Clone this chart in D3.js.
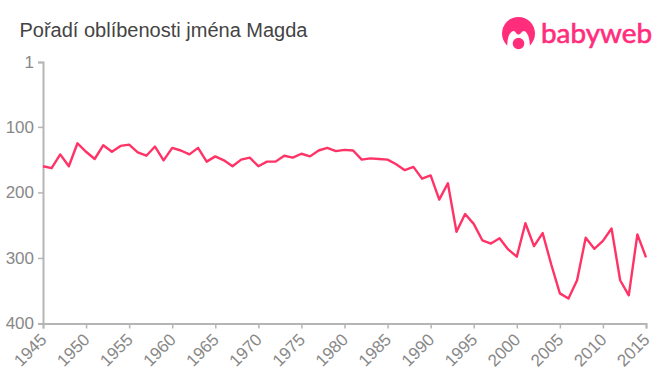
<!DOCTYPE html>
<html>
<head>
<meta charset="utf-8">
<script src="https://cdn.jsdelivr.net/npm/d3@7"></script>
<style>
html, body { margin: 0; padding: 0; background: #fff; }
svg { display: block; }
</style>
</head>
<body>
<div id="chart"></div>
<script>
const years = d3.range(1945, 2016);
const ranks = [160, 163, 142, 160, 125, 138, 149, 128, 138, 129, 127, 139, 144, 130, 151, 132,
    136, 142, 132, 153, 145, 151, 160, 150, 147, 160, 153, 153, 144, 147, 141, 145, 136, 132,
    137, 135, 136, 150, 148, 149, 150, 157, 166, 161, 179, 174, 211, 186, 260, 233, 248, 273,
    278, 270, 287, 298, 247, 282, 262, 310, 354, 362, 334, 269, 286, 274, 255, 334, 357, 264, 299];
const yTicks = [1, 100, 200, 300, 400];
const xTicks = d3.range(1945, 2016, 5);

const svg = d3.select("#chart")
    .append("svg")
    .attr("width", 660)
    .attr("height", 375)
    .attr("font-family", "'Liberation Sans', Arial, sans-serif");

const x = d3.scaleLinear().domain([1945, 2015]).range([43, 646]);
const y = d3.scaleLinear().domain([1, 400]).range([62, 323.5]);

// Title
svg.append("text")
    .attr("x", 19.5)
    .attr("y", 37)
    .attr("font-size", 20)
    .attr("fill", "#444")
    .text("Pořadí oblíbenosti jména Magda");

// Axes
const yAxis = svg.append("g")
    .attr("transform", "translate(43,0)")
    .call(d3.axisLeft(y).tickValues(yTicks).tickSize(5).tickPadding(4).tickFormat(d => d));

const xAxis = svg.append("g")
    .attr("transform", "translate(0,323.5)")
    .call(d3.axisBottom(x).tickValues(xTicks).tickSize(5).tickFormat(d3.format("d")));

[yAxis, xAxis].forEach(a => {
    a.select(".domain").attr("stroke", "#b5b5b5").attr("stroke-width", 2);
    a.selectAll(".tick line").attr("stroke", "#b5b5b5").attr("stroke-width", 1.5);
    a.selectAll(".tick text").attr("fill", "#888").attr("font-family", "'Liberation Sans', Arial, sans-serif");
});

yAxis.selectAll(".tick text").attr("font-size", 17);

xAxis.selectAll(".tick text")
    .attr("font-size", 17)
    .attr("text-anchor", "end")
    .attr("x", 0)
    .attr("y", 0)
    .attr("dy", "0.35em")
    .attr("transform", "translate(0,13) rotate(-45)");

// Line
const line = d3.line()
    .x((d, i) => x(years[i]))
    .y(d => y(d));

svg.append("path")
    .datum(ranks)
    .attr("fill", "none")
    .attr("stroke", "#ff3366")
    .attr("stroke-width", 2.4)
    .attr("stroke-linejoin", "round")
    .attr("d", line);

// Logo
const logo = svg.append("g").attr("fill", "#ff2d7c");

logo.append("circle").attr("cx", 518.5).attr("cy", 33.5).attr("r", 16.5);
logo.append("path")
    .attr("fill", "#fff")
    .attr("d", "M507 51 Q507 37 510 33.5 Q514 29 516 33 Q518.5 36 521 33 Q524 29 527 33.5 Q530 37 530 51 Z");
logo.append("circle").attr("cx", 518.5).attr("cy", 43.5).attr("r", 5.8);

logo.append("text")
    .attr("x", 541)
    .attr("y", 42.5)
    .attr("font-family", "Lato, sans-serif")
    .attr("font-size", 26)
    .attr("stroke", "#ff2d7c")
    .attr("stroke-width", 0.6)
    .attr("textLength", 111)
    .attr("lengthAdjust", "spacingAndGlyphs")
    .text("babyweb");
</script>
</body>
</html>
